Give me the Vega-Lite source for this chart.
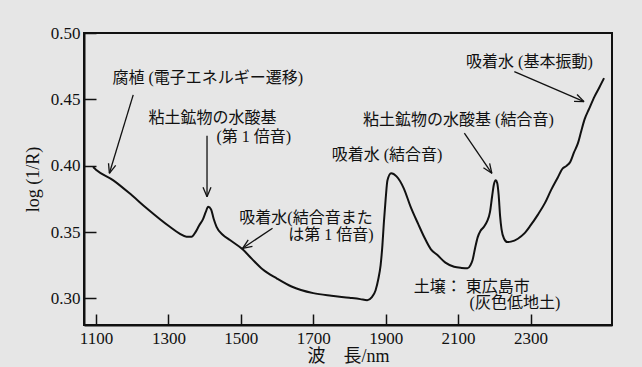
{
  "$schema": "https://vega.github.io/schema/vega-lite/v6.json",
  "width": 528,
  "height": 292,
  "autosize": {"type": "none"},
  "padding": {"left": 84, "top": 33, "right": 30, "bottom": 42},
  "background": "#e6e6e6",
  "config": {
    "view": {"stroke": "#111111", "strokeWidth": 2},
    "axis": {
      "domainColor": "#111111", "domainWidth": 2,
      "tickColor": "#111111", "tickWidth": 1.5,
      "grid": false,
      "labelFont": "Liberation Serif", "labelFontSize": 17, "labelColor": "#111111",
      "titleFont": "Liberation Serif, Noto Sans CJK JP", "titleFontWeight": "normal",
      "titleFontSize": 18, "titleColor": "#111111"
    }
  },
  "datasets": {
    "spectrum": [
      {"nm": 1092, "v": 0.399}, {"nm": 1100, "v": 0.397}, {"nm": 1148, "v": 0.389},
      {"nm": 1200, "v": 0.3775}, {"nm": 1240, "v": 0.368}, {"nm": 1304, "v": 0.354},
      {"nm": 1330, "v": 0.349}, {"nm": 1350, "v": 0.3465}, {"nm": 1364, "v": 0.3465},
      {"nm": 1375, "v": 0.350}, {"nm": 1385, "v": 0.355}, {"nm": 1396, "v": 0.360},
      {"nm": 1403, "v": 0.365}, {"nm": 1410, "v": 0.369}, {"nm": 1418, "v": 0.367},
      {"nm": 1425, "v": 0.360}, {"nm": 1433, "v": 0.354}, {"nm": 1450, "v": 0.348},
      {"nm": 1470, "v": 0.344}, {"nm": 1505, "v": 0.337}, {"nm": 1530, "v": 0.330},
      {"nm": 1560, "v": 0.322}, {"nm": 1600, "v": 0.315}, {"nm": 1640, "v": 0.309},
      {"nm": 1700, "v": 0.304}, {"nm": 1750, "v": 0.302}, {"nm": 1800, "v": 0.3005},
      {"nm": 1830, "v": 0.2995}, {"nm": 1849, "v": 0.2987}, {"nm": 1862, "v": 0.301},
      {"nm": 1872, "v": 0.306}, {"nm": 1880, "v": 0.315}, {"nm": 1886, "v": 0.325},
      {"nm": 1891, "v": 0.340}, {"nm": 1895, "v": 0.357}, {"nm": 1900, "v": 0.375},
      {"nm": 1905, "v": 0.389}, {"nm": 1915, "v": 0.3944}, {"nm": 1930, "v": 0.392},
      {"nm": 1950, "v": 0.383}, {"nm": 1969, "v": 0.369}, {"nm": 1990, "v": 0.356},
      {"nm": 2006, "v": 0.3465}, {"nm": 2025, "v": 0.337}, {"nm": 2043, "v": 0.3327},
      {"nm": 2065, "v": 0.327}, {"nm": 2089, "v": 0.3239}, {"nm": 2110, "v": 0.323},
      {"nm": 2126, "v": 0.3227}, {"nm": 2134, "v": 0.325}, {"nm": 2140, "v": 0.329},
      {"nm": 2147, "v": 0.338}, {"nm": 2154, "v": 0.346}, {"nm": 2162, "v": 0.351},
      {"nm": 2170, "v": 0.3535}, {"nm": 2180, "v": 0.358}, {"nm": 2188, "v": 0.365},
      {"nm": 2194, "v": 0.377}, {"nm": 2199, "v": 0.386}, {"nm": 2204, "v": 0.389},
      {"nm": 2208, "v": 0.387}, {"nm": 2212, "v": 0.378}, {"nm": 2216, "v": 0.362},
      {"nm": 2220, "v": 0.352}, {"nm": 2227, "v": 0.345}, {"nm": 2236, "v": 0.3425},
      {"nm": 2246, "v": 0.3428}, {"nm": 2265, "v": 0.345}, {"nm": 2283, "v": 0.349},
      {"nm": 2300, "v": 0.355}, {"nm": 2320, "v": 0.363}, {"nm": 2340, "v": 0.372},
      {"nm": 2357, "v": 0.3818}, {"nm": 2375, "v": 0.391}, {"nm": 2389, "v": 0.398},
      {"nm": 2400, "v": 0.400}, {"nm": 2410, "v": 0.403}, {"nm": 2420, "v": 0.410},
      {"nm": 2431, "v": 0.417}, {"nm": 2440, "v": 0.426}, {"nm": 2449, "v": 0.4347},
      {"nm": 2462, "v": 0.443}, {"nm": 2477, "v": 0.4523}, {"nm": 2490, "v": 0.459},
      {"nm": 2503, "v": 0.466}
    ],
    "arrows": [
      {"nm": 1202.9, "v": 0.4534, "nm2": 1137.1, "v2": 0.3943},
      {"nm": 1137.1, "v": 0.3943, "nm2": 1154.5, "v2": 0.4002},
      {"nm": 1137.1, "v": 0.3943, "nm2": 1134.7, "v2": 0.4019},
      {"nm": 1406.7, "v": 0.4225, "nm2": 1406.7, "v2": 0.3767},
      {"nm": 1406.7, "v": 0.3767, "nm2": 1395.7, "v2": 0.3837},
      {"nm": 1406.7, "v": 0.3767, "nm2": 1417.7, "v2": 0.3837},
      {"nm": 1587.6, "v": 0.3529, "nm2": 1505.0, "v2": 0.3378},
      {"nm": 1505.0, "v": 0.3378, "nm2": 1532.1, "v2": 0.3393},
      {"nm": 1505.0, "v": 0.3378, "nm2": 1520.5, "v2": 0.3441},
      {"nm": 2117.3, "v": 0.4245, "nm2": 2193.2, "v2": 0.3943},
      {"nm": 2193.2, "v": 0.3943, "nm2": 2187.1, "v2": 0.4017},
      {"nm": 2193.2, "v": 0.3943, "nm2": 2170.0, "v2": 0.3985},
      {"nm": 2255.3, "v": 0.4709, "nm2": 2447.8, "v2": 0.4483},
      {"nm": 2447.8, "v": 0.4483, "nm2": 2428.5, "v2": 0.4537},
      {"nm": 2447.8, "v": 0.4483, "nm2": 2420.2, "v2": 0.4485}
    ],
    "labels": [
      {"nm": 1409, "v": 0.4664, "text": "腐植 (電子エネルギー遷移)"},
      {"nm": 1422, "v": 0.4358, "text": "粘土鉱物の水酸基"},
      {"nm": 1536, "v": 0.4215, "text": "(第 1 倍音)"},
      {"nm": 1680, "v": 0.3604, "text": "吸着水(結合音また"},
      {"nm": 1749, "v": 0.3479, "text": "は第 1 倍音)"},
      {"nm": 1904, "v": 0.4081, "text": "吸着水 (結合音)"},
      {"nm": 2101, "v": 0.4345, "text": "粘土鉱物の水酸基 (結合音)"},
      {"nm": 2297, "v": 0.4785, "text": "吸着水 (基本振動)"},
      {"nm": 2138, "v": 0.3089, "text": "土壌： 東広島市"},
      {"nm": 2257, "v": 0.2964, "text": "(灰色低地土)"}
    ]
  },
  "layer": [
    {
      "data": {"name": "spectrum"},
      "mark": {"type": "line", "color": "#111111", "strokeWidth": 2, "interpolate": "monotone"},
      "encoding": {
        "x": {
          "field": "nm", "type": "quantitative",
          "scale": {"domain": [1067, 2525], "nice": false, "zero": false},
          "axis": {
            "values": [1100, 1300, 1500, 1700, 1900, 2100, 2300],
            "format": "d", "tickSize": -11, "labelPadding": 16,
            "title": "波　長/nm", "titleY": 31, "titleBaseline": "middle"
          }
        },
        "y": {
          "field": "v", "type": "quantitative",
          "scale": {"domain": [0.28, 0.50], "nice": false, "zero": false},
          "axis": {
            "values": [0.30, 0.35, 0.40, 0.45, 0.50],
            "format": ".2f", "tickSize": -12, "labelPadding": 16,
            "title": "log (1/R)", "titleX": -51, "titleY": 146,
            "titleAngle": -90, "titleAlign": "center", "titleBaseline": "middle"
          }
        }
      }
    },
    {
      "data": {"name": "arrows"},
      "mark": {"type": "rule", "color": "#111111", "strokeWidth": 1.3},
      "encoding": {
        "x": {"field": "nm", "type": "quantitative"},
        "y": {"field": "v", "type": "quantitative"},
        "x2": {"field": "nm2"},
        "y2": {"field": "v2"}
      }
    },
    {
      "data": {"name": "labels"},
      "mark": {
        "type": "text", "font": "Liberation Serif, Noto Sans CJK JP",
        "fontSize": 16, "color": "#111111", "align": "center", "baseline": "middle"
      },
      "encoding": {
        "x": {"field": "nm", "type": "quantitative"},
        "y": {"field": "v", "type": "quantitative"},
        "text": {"field": "text"}
      }
    }
  ]
}
